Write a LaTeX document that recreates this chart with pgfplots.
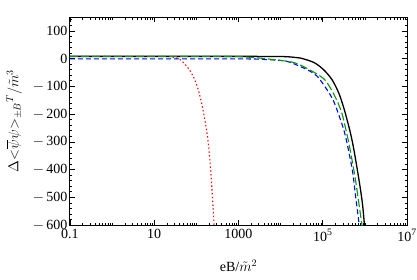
\documentclass[border=0pt]{standalone}
\usepackage{pgfplots}
\pgfplotsset{compat=1.18}
\usepackage{fontspec}
\setmainfont{Liberation Serif}
\begin{document}
\begin{tikzpicture}
\begin{axis}[
  scale only axis,
  width=337pt, height=208pt,
  xmode=log,
  xmin=0.1, xmax=1e7,
  ymin=-600, ymax=150,
  xtick={0.1,10,1000,1e5,1e7},
  xticklabels={0.1,10,1000,10\textsuperscript{5},10\textsuperscript{7}},
  minor xtick={0.2,0.3,0.4,0.5,0.6,0.7,0.8,0.9,1,2,3,4,5,6,7,8,9,20,30,40,50,60,70,80,90,100,200,300,400,500,600,700,800,900,2000,3000,4000,5000,6000,7000,8000,9000,1e4,2e4,3e4,4e4,5e4,6e4,7e4,8e4,9e4,2e5,3e5,4e5,5e5,6e5,7e5,8e5,9e5,1e6,2e6,3e6,4e6,5e6,6e6,7e6,8e6,9e6},
  ytick={-600,-500,...,100},
  minor ytick={-580,-560,...,140},
  yticklabels={$-$\,600,$-$\,500,$-$\,400,$-$\,300,$-$\,200,$-$\,100,0,100},
  /pgf/number format/assume math mode=true,
  tick label style={font=\fontsize{14}{16}\selectfont},
  label style={font=\fontsize{14}{16}\selectfont},
  xticklabel style={yshift=-1pt},
  yticklabel style={xshift=1pt},
  tick align=inside,
  major tick length=5pt,
  minor tick length=2.5pt,
  tick style={black, line width=0.6pt},
  axis line style={line width=1pt},
  xlabel={eB/$\tilde{m}^2$},
  ylabel={$\Delta{<}\overline{\psi}\psi{>}_{\pm B}{}^{T}/\tilde{m}^3$},
  xlabel style={yshift=-12pt},
  ylabel style={yshift=4pt},
  clip=true,
]
% red dotted
\addplot[red, line width=1.1pt, dash pattern=on 1.4pt off 2.4pt, smooth] coordinates {
(0.1,8) (1,8) (10,8) (24,7) (41.7,-4) (72.4,-46) (104.7,-100) (138,-172) (173.8,-256) (199.5,-329) (223.9,-425) (245.5,-520) (263,-600) (270,-640)};
% black solid
\addplot[black, line width=1.3pt, smooth] coordinates {
(0.1,8) (1000,8) (10000,7.5) (19953,5) (29512,2) (61660,-14) (104713,-40) (165959,-76) (239883,-124) (316228,-178) (380189,-222) (457088,-270) (549541,-329) (724436,-437) (870964,-520) (977237,-600) (1023293,-640)};
% blue dashed
\addplot[blue, line width=1.1pt, dash pattern=on 5pt off 3pt, smooth] coordinates {
(0.1,-1) (1000,-1) (5012,-4) (14125,-10) (42658,-40) (74131,-64) (125893,-112) (181970,-154) (263027,-220) (346737,-280) (501187,-400) (602560,-497) (724436,-593) (758578,-640)};
% green long dash
\addplot[green!60!black, line width=1.1pt, dash pattern=on 8pt off 3pt, smooth] coordinates {
(0.1,8) (100,8) (1000,7) (3162,2) (6310,-3) (20417,-14) (45709,-38) (104713,-72) (151356,-106) (218776,-152) (288403,-200) (346737,-250) (416869,-305) (501187,-370) (602560,-440) (724436,-525) (851138,-600) (891251,-640)};
\end{axis}
\pgfresetboundingbox
\useasboundingbox (-70pt,-54pt) rectangle (347pt,225pt);
\end{tikzpicture}
\end{document}
